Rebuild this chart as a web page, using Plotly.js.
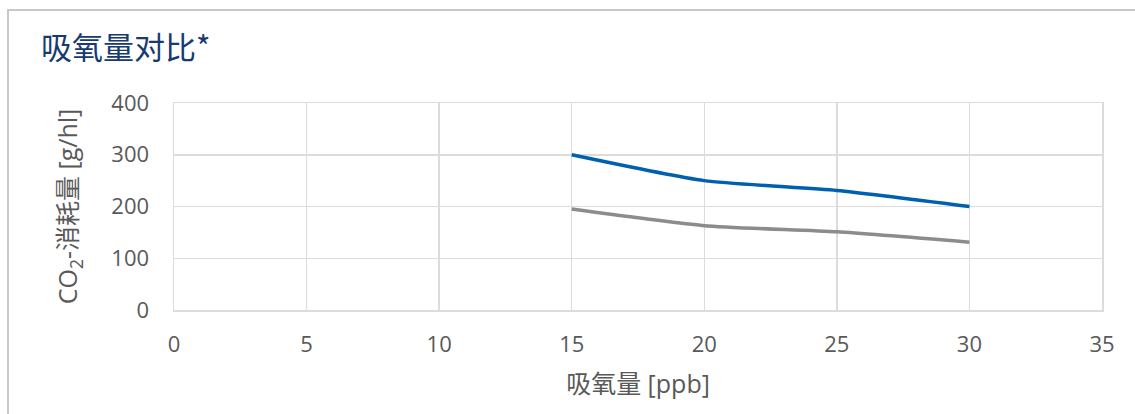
<!DOCTYPE html>
<html><head><meta charset="utf-8">
<script src="https://cdn.plot.ly/plotly-3.0.1.min.js"></script>
<style>
html,body{margin:0;padding:0;background:#fff;}
#wrap{position:relative;width:1135px;height:414px;overflow:hidden;}
#chart{position:absolute;left:0;top:0;width:1135px;height:414px;}
#frame{position:absolute;left:7px;top:9px;width:1200px;height:500px;border-top:2px solid #c6c8ca;border-left:2px solid #c6c8ca;pointer-events:none;}
</style></head>
<body><div id="wrap"><div id="chart"></div><div id="frame"></div></div>
<script>
const oxygenPpb = [15, 20, 25, 30];
const seriesA = [300, 250, 231, 200];
const seriesB = [195, 163, 151, 131];
const xTicks = [0, 5, 10, 15, 20, 25, 30, 35];
const yTicks = [0, 100, 200, 300, 400];

const font = "'Open Sans','Noto Sans CJK SC',sans-serif";
const traces = [
  {x: oxygenPpb, y: seriesA, type: 'scatter', mode: 'lines', line: {color: '#0060b0', width: 3.5, shape: 'spline', smoothing: 0.6}, hoverinfo: 'skip', showlegend: false},
  {x: oxygenPpb, y: seriesB, type: 'scatter', mode: 'lines', line: {color: '#8c8c8c', width: 3.5, shape: 'spline', smoothing: 0.6}, hoverinfo: 'skip', showlegend: false}
];
const layout = {
  width: 1135, height: 414,
  margin: {l: 174, r: 33, t: 103, b: 104},
  paper_bgcolor: '#fff', plot_bgcolor: '#fff',
  font: {family: font, color: '#595959', size: 22},
  title: {text: '吸氧量对比*', x: 41/1135, xref: 'container', xanchor: 'left', y: 1 - 48/414, yref: 'container', yanchor: 'middle',
          font: {family: "'Noto Sans CJK SC','Open Sans',sans-serif", size: 31, color: '#173a73', weight: 400}},
  xaxis: {range: [0, 35], tickvals: xTicks, ticktext: xTicks.map(String), showgrid: true, gridcolor: '#dcdcdc', gridwidth: 1.5,
          zeroline: false, showline: true, linecolor: '#dcdcdc', linewidth: 1.5, mirror: true, ticks: '', ticklabelstandoff: 14,
          tickfont: {size: 22, color: '#595959'},
          title: {text: '吸氧量 [ppb]', standoff: 18, font: {size: 25, color: '#595959', family: font}}},
  yaxis: {range: [0, 400], tickvals: yTicks, ticktext: yTicks.map(String), showgrid: true, gridcolor: '#dcdcdc', gridwidth: 1.5,
          zeroline: false, showline: true, linecolor: '#dcdcdc', linewidth: 1.5, mirror: true, ticks: '', ticklabelstandoff: 19,
          tickfont: {size: 22, color: '#595959'},
          title: {text: 'CO<sub>2</sub>-消耗量 [g/hl]', standoff: 26, font: {size: 25, color: '#595959', family: font}}}
};
Plotly.newPlot('chart', traces, layout, {displayModeBar: false, staticPlot: true});
</script></body></html>
